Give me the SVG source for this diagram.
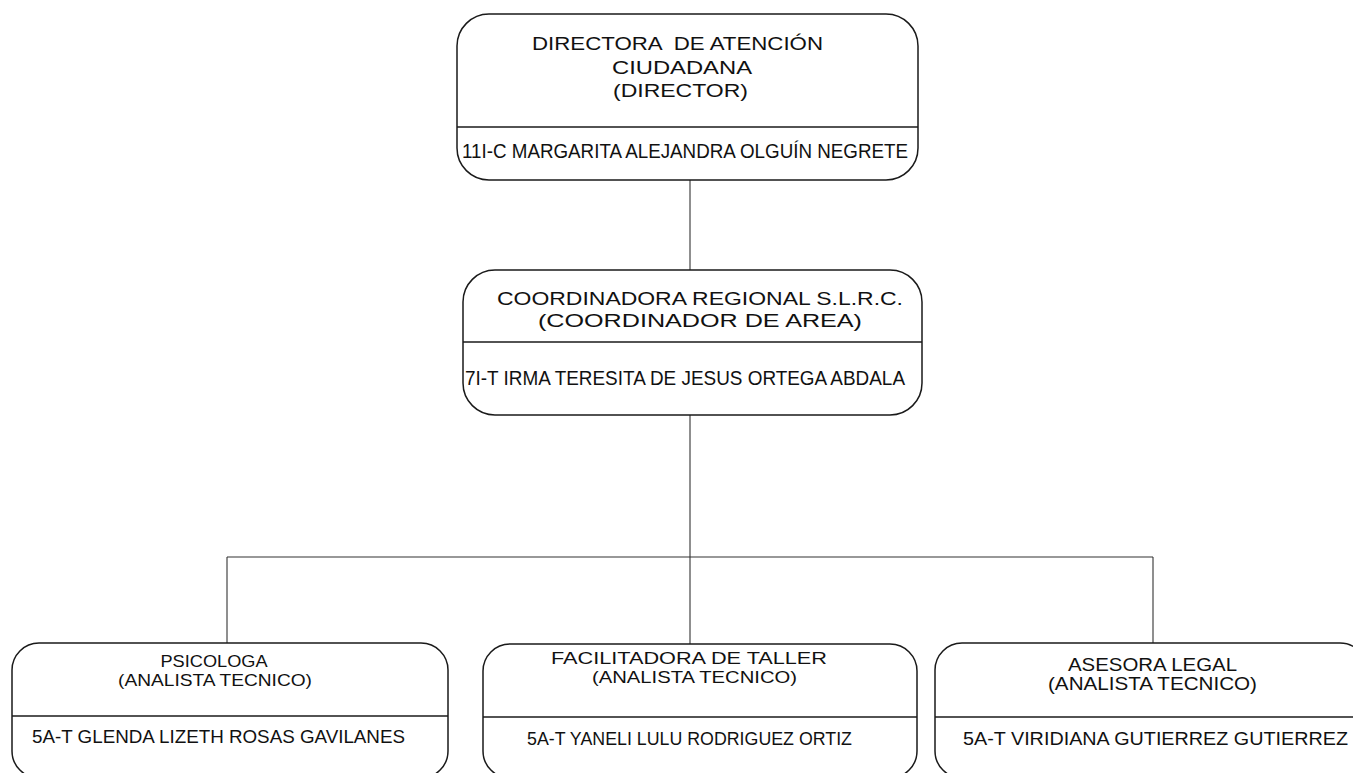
<svg xmlns="http://www.w3.org/2000/svg" width="1353" height="773" viewBox="0 0 1353 773">
<style>
.box{fill:#fff;stroke:#1a1a1a;stroke-width:1.5}
.div{stroke:#1a1a1a;stroke-width:1.3}
.t{font-family:"Liberation Sans",Arial,sans-serif;fill:#111;text-anchor:middle}
.n{font-family:"Liberation Sans",Arial,sans-serif;fill:#111;text-anchor:middle}
.conn line{stroke:#333;stroke-width:1.1}
</style>
<rect width="1353" height="773" fill="#fff"/>
<g class="conn" id="connectors">
<line x1="690" y1="180" x2="690" y2="270"/>
<line x1="690" y1="415" x2="690" y2="644"/>
<line x1="227" y1="557" x2="1153" y2="557"/>
<line x1="227" y1="557" x2="227" y2="643"/>
<line x1="1153" y1="557" x2="1153" y2="643"/>
</g>
<g id="node-director">
<rect class="box" x="457" y="14" width="461" height="166" rx="32" ry="32"/>
<line class="div" x1="457" y1="127" x2="918" y2="127"/>
<text class="t" x="677.5" y="50" font-size="17.5" textLength="291" lengthAdjust="spacingAndGlyphs" xml:space="preserve">DIRECTORA  DE ATENCIÓN</text>
<text class="t" x="682" y="74" font-size="17.5" textLength="140" lengthAdjust="spacingAndGlyphs">CIUDADANA</text>
<text class="t" x="680.5" y="97" font-size="17.5" textLength="135" lengthAdjust="spacingAndGlyphs">(DIRECTOR)</text>
<text class="n" x="685" y="158" font-size="21" textLength="446" lengthAdjust="spacingAndGlyphs">11I-C MARGARITA ALEJANDRA OLGUÍN NEGRETE</text>
</g>
<g id="node-coordinadora">
<rect class="box" x="463" y="270" width="459" height="145" rx="32" ry="32"/>
<line class="div" x1="463" y1="342" x2="922" y2="342"/>
<text class="t" x="700" y="305" font-size="18" textLength="406" lengthAdjust="spacingAndGlyphs">COORDINADORA REGIONAL S.L.R.C.</text>
<text class="t" x="700" y="327" font-size="18" textLength="324" lengthAdjust="spacingAndGlyphs">(COORDINADOR DE AREA)</text>
<text class="n" x="685" y="385" font-size="20" textLength="440" lengthAdjust="spacingAndGlyphs">7I-T IRMA TERESITA DE JESUS ORTEGA ABDALA</text>
</g>
<g id="node-psicologa">
<rect class="box" x="12" y="643" width="436" height="135" rx="27" ry="27"/>
<line class="div" x1="12" y1="716" x2="448" y2="716"/>
<text class="t" x="214" y="667" font-size="17" textLength="107" lengthAdjust="spacingAndGlyphs">PSICOLOGA</text>
<text class="t" x="215" y="686" font-size="17" textLength="194" lengthAdjust="spacingAndGlyphs">(ANALISTA TECNICO)</text>
<text class="t" x="218.5" y="743" font-size="18" textLength="373" lengthAdjust="spacingAndGlyphs">5A-T GLENDA LIZETH ROSAS GAVILANES</text>
</g>
<g id="node-facilitadora">
<rect class="box" x="483" y="644" width="434" height="134" rx="27" ry="27"/>
<line class="div" x1="483" y1="717" x2="917" y2="717"/>
<text class="t" x="689" y="664" font-size="16.5" textLength="276" lengthAdjust="spacingAndGlyphs">FACILITADORA DE TALLER</text>
<text class="t" x="694.5" y="683" font-size="16.5" textLength="205" lengthAdjust="spacingAndGlyphs">(ANALISTA TECNICO)</text>
<text class="t" x="689.5" y="745" font-size="18" textLength="325" lengthAdjust="spacingAndGlyphs">5A-T YANELI LULU RODRIGUEZ ORTIZ</text>
</g>
<g id="node-asesora">
<rect class="box" x="935" y="643" width="432" height="135" rx="27" ry="27"/>
<line class="div" x1="935" y1="717" x2="1367" y2="717"/>
<text class="t" x="1152.5" y="671" font-size="17.5" textLength="169" lengthAdjust="spacingAndGlyphs">ASESORA LEGAL</text>
<text class="t" x="1152.5" y="690" font-size="17.5" textLength="209" lengthAdjust="spacingAndGlyphs">(ANALISTA TECNICO)</text>
<text class="t" x="1155.5" y="745" font-size="18" textLength="385" lengthAdjust="spacingAndGlyphs">5A-T VIRIDIANA GUTIERREZ GUTIERREZ</text>
</g>
</svg>
